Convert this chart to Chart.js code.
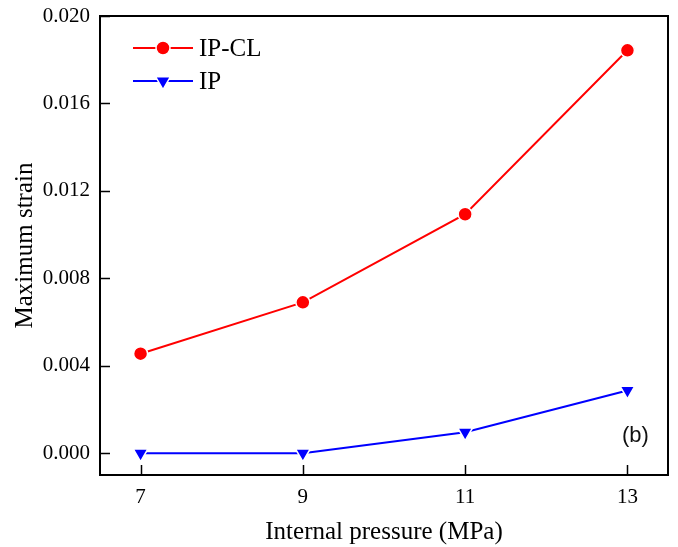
<!DOCTYPE html>
<html>
<head>
<meta charset="utf-8">
<script src="https://cdn.jsdelivr.net/npm/chart.js@4.4.1/dist/chart.umd.min.js"></script>
<style>
html,body{margin:0;padding:0;background:#fff;}
#wrap{width:678px;height:547px;position:relative;}
</style>
</head>
<body>
<div id="wrap"><canvas id="c" width="678" height="547"></canvas></div>
<script>
const pressures = [7, 9, 11, 13];
const ipclValues = [0.00455, 0.0069, 0.01093, 0.01843];
const ipValues = [0.0, 0.0, 0.00096, 0.00287];
const xTickValues = [7, 9, 11, 13];
const yTickValues = [0.000, 0.004, 0.008, 0.012, 0.016, 0.020];
const seriesNames = ['IP-CL', 'IP'];
const xTitle = 'Internal pressure (MPa)';
const yTitle = 'Maximum strain';
const panelLabel = '(b)';

const serif = '"Liberation Serif", "Times New Roman", serif';

const toPoints = (xs, ys) => xs.map((x, i) => ({x: x, y: ys[i]}));

const framePlugin = {
  id: 'frame',
  afterDraw(chart) {
    const ctx = chart.ctx;
    const a = chart.chartArea;
    const xs = chart.scales.x, ys = chart.scales.y;
    ctx.save();
    ctx.strokeStyle = '#000';
    ctx.lineWidth = 2;
    // top and right border
    ctx.beginPath();
    ctx.moveTo(a.left - 1, a.top);
    ctx.lineTo(a.right, a.top);
    ctx.lineTo(a.right, a.bottom + 1);
    ctx.stroke();
    // inward ticks
    ctx.lineWidth = 1.5;
    ctx.beginPath();
    xTickValues.forEach(v => {
      const px = Math.round(xs.getPixelForValue(v)) + 0.5;
      ctx.moveTo(px, a.bottom);
      ctx.lineTo(px, a.bottom - 10);
    });
    yTickValues.forEach(v => {
      const py = Math.round(ys.getPixelForValue(v)) + 0.5;
      ctx.moveTo(a.left, py);
      ctx.lineTo(a.left + 10, py);
    });
    ctx.stroke();
    // legend
    const rows = [{y: 48, ds: chart.data.datasets[0]}, {y: 81, ds: chart.data.datasets[1]}];
    rows.forEach(r => {
      ctx.strokeStyle = r.ds.borderColor;
      ctx.lineWidth = 2;
      ctx.beginPath();
      ctx.moveTo(133, r.y);
      ctx.lineTo(193, r.y);
      ctx.stroke();
      ctx.fillStyle = r.ds.pointBackgroundColor;
      ctx.strokeStyle = r.ds.pointBorderColor;
      ctx.lineWidth = r.ds.pointBorderWidth;
      Chart.helpers.drawPoint(ctx, {
        pointStyle: r.ds.pointStyle,
        rotation: r.ds.pointRotation || 0,
        radius: r.ds.pointRadius,
        borderWidth: r.ds.pointBorderWidth
      }, 163, r.y);
      ctx.fillStyle = '#000';
      ctx.font = '25px ' + serif;
      ctx.textAlign = 'left';
      ctx.textBaseline = 'middle';
      ctx.fillText(r.ds.label, 199, r.y + 1);
    });
    // panel label
    ctx.fillStyle = '#111';
    ctx.font = '22px "Liberation Sans", Arial, sans-serif';
    ctx.textAlign = 'left';
    ctx.textBaseline = 'middle';
    ctx.fillText(panelLabel, 622, 436);
    ctx.restore();
  }
};

new Chart(document.getElementById('c'), {
  type: 'line',
  data: {
    datasets: [
      {
        label: seriesNames[0],
        data: toPoints(pressures, ipclValues),
        borderColor: '#ff0000',
        backgroundColor: '#ff0000',
        borderWidth: 2,
        pointStyle: 'circle',
        pointRadius: 7,
        pointBackgroundColor: '#ff0000',
        pointBorderColor: '#ffffff',
        pointBorderWidth: 1.5,
        tension: 0
      },
      {
        label: seriesNames[1],
        data: toPoints(pressures, ipValues),
        borderColor: '#0000ff',
        backgroundColor: '#0000ff',
        borderWidth: 2,
        pointStyle: 'triangle',
        pointRotation: 180,
        pointRadius: 8.5,
        pointBackgroundColor: '#0000ff',
        pointBorderColor: '#ffffff',
        pointBorderWidth: 1.5,
        tension: 0
      }
    ]
  },
  options: {
    responsive: false,
    animation: false,
    devicePixelRatio: 1,
    layout: {padding: {top: 16, right: 10, left: 0, bottom: 0}},
    plugins: {legend: {display: false}, tooltip: {enabled: false}},
    scales: {
      x: {
        type: 'linear',
        min: 6.5,
        max: 13.5,
        afterBuildTicks: s => { s.ticks = xTickValues.map(v => ({value: v})); },
        afterFit: s => { s.height = 72; s.paddingLeft = 0; s.paddingRight = 0; },
        grid: {drawOnChartArea: false, drawTicks: false},
        border: {display: true, color: '#000', width: 2},
        ticks: {
          padding: 10,
          color: '#000',
          font: {family: serif, size: 21},
          callback: v => String(v)
        },
        title: {
          display: true,
          text: xTitle,
          color: '#000',
          font: {family: serif, size: 25},
          padding: {top: 0, bottom: 0}
        }
      },
      y: {
        type: 'linear',
        min: -0.001,
        max: 0.020,
        afterBuildTicks: s => { s.ticks = yTickValues.map(v => ({value: v})); },
        afterFit: s => { s.width = 100; s.paddingTop = 0; s.paddingBottom = 0; },
        grid: {drawOnChartArea: false, drawTicks: false},
        border: {display: true, color: '#000', width: 2},
        ticks: {
          padding: 10,
          color: '#000',
          font: {family: serif, size: 21},
          callback: v => v.toFixed(3)
        },
        title: {
          display: true,
          text: yTitle,
          color: '#000',
          font: {family: serif, size: 25},
          padding: {top: 10, bottom: 0}
        }
      }
    }
  },
  plugins: [framePlugin]
});
</script>
</body>
</html>
